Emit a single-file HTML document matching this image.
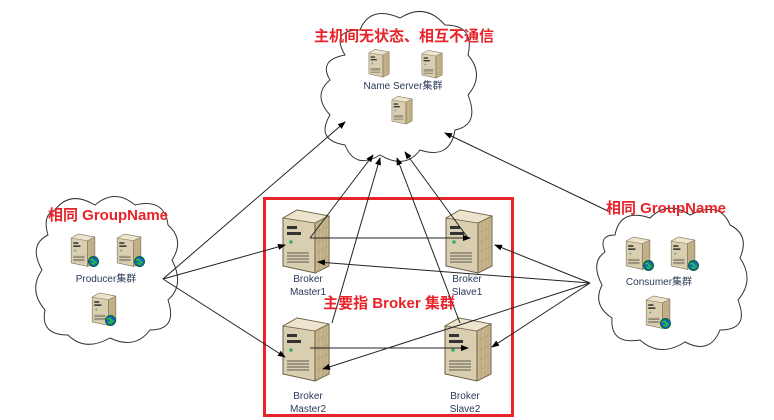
<!DOCTYPE html>
<html><head><meta charset="utf-8"><style>
body{margin:0;background:#fff;width:774px;height:420px;overflow:hidden}
svg{display:block}
.t{font-family:"Liberation Sans","Noto Sans CJK SC",sans-serif}
.r{fill:#e8232a;font-weight:bold;font-size:15px}
.k{fill:#2a3a5a;font-size:10px}
</style></head><body>
<svg width="774" height="420" viewBox="0 0 774 420">
<defs>
<marker id="a" markerWidth="8" markerHeight="8" refX="7" refY="4" orient="auto" markerUnits="userSpaceOnUse"><path d="M0,1 L8,4 L0,7z" fill="#000"/></marker>
<symbol id="srv" viewBox="0 0 50 66">
<path d="M2,10 L16,2 L48,8 L48,58 L34,65 L2,58z" fill="#d9ceb0" stroke="#6b5e45" stroke-width="1"/>
<path d="M2,10 L16,2 L48,8 L34,15z" fill="#ece4cc" stroke="#6b5e45" stroke-width="0.8"/>
<path d="M34,15 L48,8 L48,58 L34,65z" fill="#c7b58e" stroke="#6b5e45" stroke-width="0.8"/>
<path d="M34,15 L34,65" stroke="#6b5e45"/>
<g stroke="#b09a70" stroke-width="0.6"><path d="M38,14 V62 M42,12 V60 M45,10 V59 M34,25 L48,18 M34,35 L48,28 M34,45 L48,38 M34,55 L48,48"/></g>
<rect x="6" y="18" width="10" height="3" fill="#333"/><rect x="6" y="24" width="14" height="3" fill="#333"/>
<circle cx="10" cy="34" r="1.8" fill="#3a7"/>
<g stroke="#333" stroke-width="0.8"><path d="M6,45 H28 M6,48 H28 M6,51 H28 M6,54 H28"/></g>
</symbol>
<symbol id="glb" viewBox="0 0 10 10"><circle cx="5" cy="5" r="4.5" fill="#1a5fd0" stroke="#063"/><path d="M2,4 Q4,2 5,4 T8,6 M3,7 Q5,6 6,8" stroke="#2c2" stroke-width="1.5" fill="none"/></symbol>
</defs>
<g fill="#fff" stroke="#333" stroke-width="1">
<path d="M345,55 Q330,30 360,30 Q370,5 400,18 Q425,2 445,25 Q475,25 468,55 Q485,75 468,95 Q480,125 455,130 Q450,160 420,150 Q405,170 380,155 Q355,170 345,145 Q315,140 330,115 Q312,95 330,80 Q318,60 345,55z"/>
<path d="M55,210 Q70,190 95,205 Q115,188 135,205 Q165,198 168,225 Q185,240 172,260 Q185,285 168,300 Q178,330 150,330 Q135,350 110,338 Q85,352 68,335 Q40,335 45,310 Q28,290 42,270 Q28,245 48,235 Q42,215 55,210z"/>
<path d="M615,235 Q620,208 650,218 Q668,200 690,215 Q720,200 730,225 Q750,235 740,258 Q755,280 738,300 Q750,330 720,330 Q710,355 685,342 Q660,358 640,340 Q610,345 612,318 Q592,305 602,285 Q590,262 605,252 Q598,235 615,235z"/>
</g>
<rect x="264.5" y="198.5" width="248" height="217" fill="none" stroke="#e8232a" stroke-width="3"/>
<use href="#srv" x="280" y="208" width="52" height="66"/>
<use href="#srv" x="443" y="208" width="52" height="66"/>
<use href="#srv" x="280" y="316" width="52" height="66"/>
<use href="#srv" x="442" y="316" width="52" height="66"/>
<use href="#srv" x="368" y="48" width="22" height="30"/>
<use href="#srv" x="421" y="49" width="22" height="30"/>
<use href="#srv" x="391" y="95" width="22" height="30"/>
<use href="#srv" x="70" y="233" width="26" height="34"/><use href="#glb" x="88" y="256" width="11" height="11"/>
<use href="#srv" x="116" y="233" width="26" height="34"/><use href="#glb" x="134" y="256" width="11" height="11"/>
<use href="#srv" x="91" y="292" width="26" height="34"/><use href="#glb" x="105" y="315" width="11" height="11"/>
<use href="#srv" x="625" y="236" width="26" height="34"/><use href="#glb" x="643" y="260" width="11" height="11"/>
<use href="#srv" x="670" y="236" width="26" height="34"/><use href="#glb" x="688" y="260" width="11" height="11"/>
<use href="#srv" x="645" y="295" width="26" height="34"/><use href="#glb" x="660" y="318" width="11" height="11"/>
<g stroke="#222" stroke-width="1" fill="none" marker-end="url(#a)">
<path d="M163,279 L345,122"/>
<path d="M163,279 L285,245"/>
<path d="M163,279 L285,357"/>
<path d="M310,238 L373,155"/>
<path d="M332,323 L380,158"/>
<path d="M460,323 L397,158"/>
<path d="M468,238 L405,152"/>
<path d="M610,212 L445,133"/>
<path d="M590,283 L495,245"/>
<path d="M590,283 L318,262"/>
<path d="M590,283 L323,369"/>
<path d="M590,283 L492,347"/>
<path d="M310,238 L470,238"/>
<path d="M310,348 L468,348"/>
</g>
<g class="t">
<text x="404" y="41" class="r" text-anchor="middle">主机间无状态、相互不通信</text>
<text x="108" y="220" class="r" text-anchor="middle">相同 GroupName</text>
<text x="666" y="213" class="r" text-anchor="middle">相同 GroupName</text>
<text x="389" y="308" class="r" text-anchor="middle">主要指 Broker 集群</text>
<text x="403" y="89" class="k" text-anchor="middle">Name Server集群</text>
<text x="106" y="282" class="k" text-anchor="middle">Producer集群</text>
<text x="659" y="285" class="k" text-anchor="middle">Consumer集群</text>
<text x="308" y="282" class="k" text-anchor="middle">Broker</text>
<text x="308" y="295" class="k" text-anchor="middle">Master1</text>
<text x="467" y="282" class="k" text-anchor="middle">Broker</text>
<text x="467" y="295" class="k" text-anchor="middle">Slave1</text>
<text x="308" y="399" class="k" text-anchor="middle">Broker</text>
<text x="308" y="412" class="k" text-anchor="middle">Master2</text>
<text x="465" y="399" class="k" text-anchor="middle">Broker</text>
<text x="465" y="412" class="k" text-anchor="middle">Slave2</text>
</g>
</svg>
</body></html>
